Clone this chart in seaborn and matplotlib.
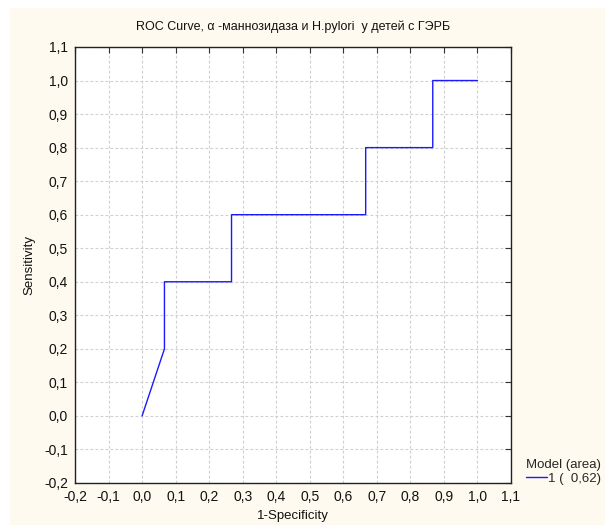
import matplotlib
matplotlib.use("Agg")
import matplotlib.pyplot as plt
import matplotlib.patches as mpatches
from matplotlib.ticker import FuncFormatter, MultipleLocator
import seaborn as sns
import pandas as pd

fpr = [0.0, 0.0667, 0.0667, 0.2667, 0.2667, 0.6667, 0.6667, 0.8667, 0.8667, 1.0]
tpr = [0.0, 0.2, 0.4, 0.4, 0.6, 0.6, 0.8, 0.8, 1.0, 1.0]
title = "ROC Curve, α -маннозидаза и H.pylori  у детей с ГЭРБ"
legend_title = "Model (area)"
legend_label = "1 (  0,62)"

sns.set_theme(style="white")
plt.rcParams['font.family'] = ['Liberation Sans', 'DejaVu Sans']

fig = plt.figure(figsize=(6.05, 5.25), dpi=100)
fig.patch.set_facecolor("white")
fig.patches.append(mpatches.Rectangle((10/605, 0), 1, 1 - 8/525, transform=fig.transFigure,
                                      facecolor="#FFFAEF", edgecolor="none", zorder=-10))
ax = fig.add_axes([75/605, 1 - 483/525, 436/605, 436/525])
ax.set_facecolor("white")

df = pd.DataFrame({"x": fpr, "y": tpr})
sns.lineplot(data=df, x="x", y="y", sort=False, estimator=None, color="#1a1aff",
             linewidth=1.0, ax=ax, label=legend_label)

ax.set_xlim(-0.2, 1.1)
ax.set_ylim(-0.2, 1.1)
ax.xaxis.set_major_locator(MultipleLocator(0.1))
ax.yaxis.set_major_locator(MultipleLocator(0.1))
fmt = FuncFormatter(lambda v, p: f"{v:.1f}".replace(".", ",").replace("-0,0", "0,0"))
ax.xaxis.set_major_formatter(fmt)
ax.yaxis.set_major_formatter(fmt)
ax.grid(True, color="#cfcfcf", linestyle=(0, (2.5, 2)), linewidth=0.8)
ax.tick_params(direction="in", length=4, width=0.8, color="#333333", labelsize=10,
               top=True, right=True, labelcolor="#111111", pad=5)
for s in ax.spines.values():
    s.set_color("#222222")
    s.set_linewidth(1.0)

ax.set_xlabel("1-Specificity", fontsize=9.5, color="#111111", labelpad=4)
ax.set_ylabel("Sensitivity", fontsize=9.5, color="#111111", labelpad=6)
ax.set_title(title, fontsize=9, color="#111111", pad=12)

leg = ax.legend(title=legend_title, loc="upper left", bbox_to_anchor=(526/605, 1 - 459/525),
                bbox_transform=fig.transFigure, frameon=False, fontsize=9.5, title_fontsize=9.5,
                handlelength=1.6, handletextpad=0.1, borderpad=0, labelspacing=0.1,
                borderaxespad=0)
leg._legend_box.align = "left"

fig.savefig("out.png", dpi=100, facecolor=fig.get_facecolor())
